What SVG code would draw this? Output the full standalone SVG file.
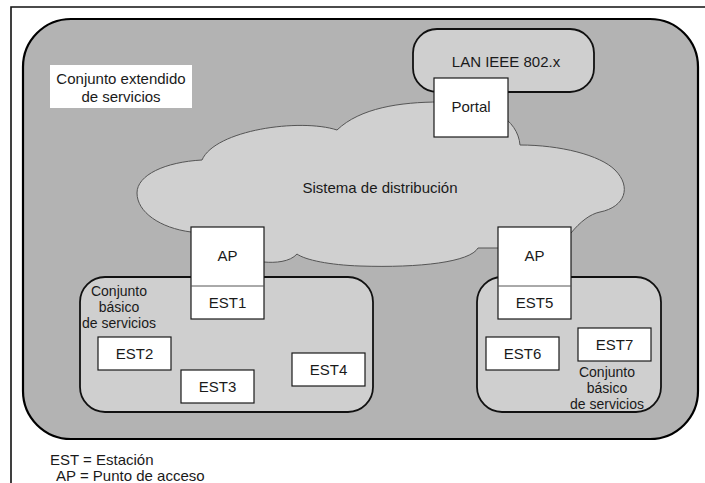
<svg xmlns="http://www.w3.org/2000/svg" width="705" height="483" viewBox="0 0 705 483">
  <style>
    text { font-family: "Liberation Sans", Arial, sans-serif; font-size: 15px; fill: #1a1a1a; }
    .mid { text-anchor: middle; }
    .lbl { font-size: 14px; }
    .box { fill: #ffffff; stroke: #1a1a1a; stroke-width: 1.2; }
    .sep { stroke: #555555; stroke-width: 1; }
    .ess { fill: #b3b3b3; stroke: #000000; stroke-width: 2.2; }
    .bss { fill: #cfcfcf; stroke: #111111; stroke-width: 1.8; }
    .cloud { fill: #d0d0d0; stroke: #555555; stroke-width: 1; }
  </style>

  <rect width="705" height="483" fill="#ffffff"/>
  <!-- page frame -->
  <path d="M11,483 V7 H705" fill="none" stroke="#111111" stroke-width="1.6"/>

  <!-- extended service set -->
  <g id="ess">
    <rect class="ess" x="23" y="19" width="675" height="420" rx="48" ry="48"/>
    <rect x="50" y="65" width="142" height="43" fill="#ffffff"/>
    <text class="mid" x="121" y="84">Conjunto extendido</text>
    <text class="mid" x="121" y="102">de servicios</text>
  </g>

  <!-- wired LAN -->
  <g id="lan">
    <rect class="bss" x="413" y="29" width="181" height="63" rx="24" ry="24"/>
    <text class="mid" x="506" y="67">LAN IEEE 802.x</text>
  </g>

  <!-- distribution system -->
  <g id="ds">
    <path class="cloud" d="M191,232 C160,228 137,212 137,193 C137,175 165,162 202,160 C215,130 300,118 337,130 C360,108 400,102 440,102 C490,100 518,120 520,145 C560,145 600,155 615,170 C632,187 625,207 600,212 C590,214 580,222 571,233 L498,248 L478,248 C470,262 420,268 360,266 C330,265 305,260 297,254 C290,262 275,263 264,262 Z"/>
    <text class="mid" x="380" y="193">Sistema de distribución</text>
  </g>

  <!-- basic service sets -->
  <g id="bss1">
    <rect class="bss" x="80" y="277" width="293" height="135" rx="25" ry="25"/>
    <text class="mid lbl" x="119" y="296">Conjunto</text>
    <text class="mid lbl" x="119" y="312">básico</text>
    <text class="mid lbl" x="119" y="328">de servicios</text>
  </g>
  <g id="bss2">
    <rect class="bss" x="477" y="277" width="184" height="135" rx="25" ry="25"/>
    <text class="mid lbl" x="607" y="377">Conjunto</text>
    <text class="mid lbl" x="607" y="393">básico</text>
    <text class="mid lbl" x="607" y="409">de servicios</text>
  </g>

  <!-- portal -->
  <g id="portal">
    <rect class="box" x="434" y="78" width="74" height="59"/>
    <text class="mid" x="471" y="112">Portal</text>
  </g>

  <!-- access points with their stations -->
  <g id="ap1">
    <rect class="box" x="191" y="227" width="73" height="92"/>
    <line class="sep" x1="191" y1="286" x2="264" y2="286"/>
    <text class="mid" x="227.5" y="261">AP</text>
    <text class="mid" x="227.5" y="308">EST1</text>
  </g>
  <g id="ap2">
    <rect class="box" x="498" y="227" width="73" height="92"/>
    <line class="sep" x1="498" y1="286" x2="571" y2="286"/>
    <text class="mid" x="534.5" y="261">AP</text>
    <text class="mid" x="534.5" y="308">EST5</text>
  </g>

  <!-- stations -->
  <g id="est2">
    <rect class="box" x="98" y="337" width="73" height="33"/>
    <text class="mid" x="134.5" y="359">EST2</text>
  </g>
  <g id="est3">
    <rect class="box" x="181" y="370" width="73" height="33"/>
    <text class="mid" x="217.5" y="392">EST3</text>
  </g>
  <g id="est4">
    <rect class="box" x="292" y="353" width="73" height="33"/>
    <text class="mid" x="328.5" y="375">EST4</text>
  </g>
  <g id="est6">
    <rect class="box" x="486" y="337" width="73" height="33"/>
    <text class="mid" x="522.5" y="359">EST6</text>
  </g>
  <g id="est7">
    <rect class="box" x="578" y="328" width="73" height="33"/>
    <text class="mid" x="614.5" y="350">EST7</text>
  </g>

  <!-- no connectors: links are shown by containment -->
  <g id="connectors"/>

  <!-- legend -->
  <g id="legend">
    <text x="50" y="465">EST = Estación</text>
    <text x="56" y="481">AP = Punto de acceso</text>
  </g>
</svg>
